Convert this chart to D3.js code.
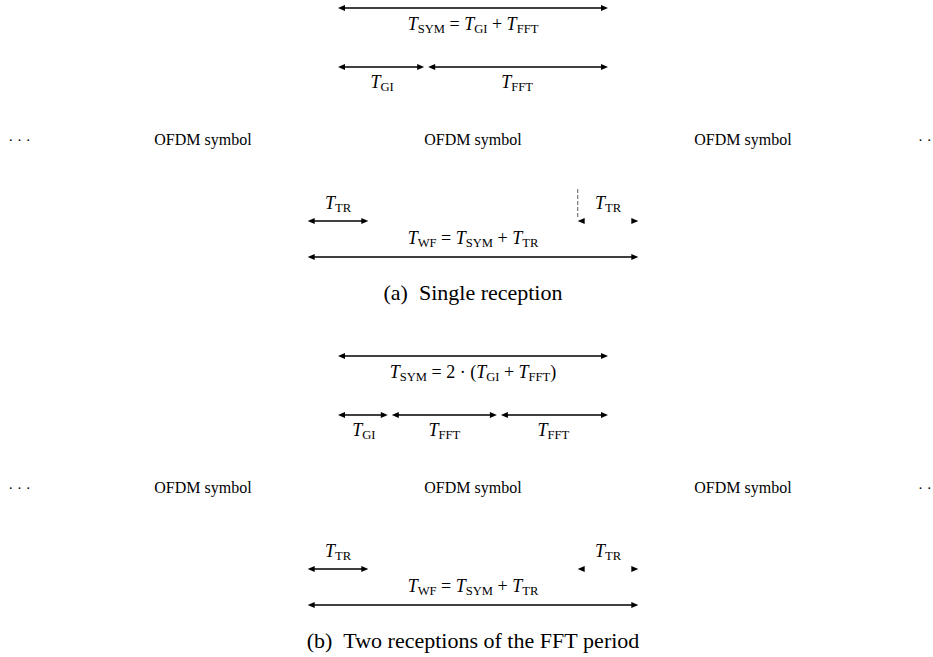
<!DOCTYPE html>
<html><head><meta charset="utf-8">
<script src="https://cdn.jsdelivr.net/npm/d3@7/dist/d3.min.js"></script>
<style>body{margin:0;background:#fff}svg{display:block}</style>
</head><body>
<script>
// ---- data (time units) ----
const segNamesA = ["GI", "FFT"];
const segDurA   = [0.8, 1.65];
const segNamesB = ["GI", "FFT", "FFT"];
const segDurB   = [0.47, 0.99, 0.99];
const T_TR = 0.55;
const symbolOffsets = [-1, 0, 1];
const ellipsisOffsets = [-1.68, 1.69];
const symbolLabel = "OFDM symbol";
const captions = ["(a)  Single reception", "(b)  Two receptions of the FFT period"];
const eqTop = [
  [{v:"T",s:"SYM"}, " = ", {v:"T",s:"GI"}, " + ", {v:"T",s:"FFT"}],
  [{v:"T",s:"SYM"}, " = 2 \u00B7 (", {v:"T",s:"GI"}, " + ", {v:"T",s:"FFT"}, ")"]
];
const eqWF = [{v:"T",s:"WF"}, " = ", {v:"T",s:"SYM"}, " + ", {v:"T",s:"TR"}];

const W = 933, H = 657;
const svg = d3.select("body").append("svg").attr("width", W).attr("height", H);
const FONT = "'Liberation Serif', 'Times New Roman', serif";
const MATH = 18;

const symDur = d3.sum(segDurA);
const x = d3.scaleLinear().domain([0, symDur]).range([338, 608]);

function head(g, xt, y, dir) { // dir -1 left, +1 right
  const L = 7, hw = 3;
  g.append("path")
    .attr("d", `M${xt},${y} L${xt - dir*L},${y-hw} L${xt - dir*L},${y+hw} Z`)
    .attr("fill", "#000");
}
function arrow(g, x1, x2, y) {
  g.append("line").attr("x1", x1 + 3).attr("x2", x2 - 3).attr("y1", y).attr("y2", y)
    .attr("stroke", "#000").attr("stroke-width", 1.5);
  head(g, x1, y, -1); head(g, x2, y, 1);
}
function mathText(g, cx, y, parts, size) {
  const t = g.append("text").attr("x", cx).attr("y", y).attr("text-anchor", "middle")
    .attr("font-family", FONT).attr("font-size", size).attr("fill", "#000");
  let shifted = false;
  parts.forEach(p => {
    if (typeof p === "string") {
      const ts = t.append("tspan").text(p.replace(/ /g, "\u00A0"));
      if (shifted) { ts.attr("dy", -3); shifted = false; }
    } else {
      const ts = t.append("tspan").attr("font-style", "italic").text(p.v);
      if (shifted) { ts.attr("dy", -3); shifted = false; }
      t.append("tspan").attr("font-size", size * 0.7).attr("dy", 3).text(p.s);
      shifted = true;
    }
  });
  return t;
}

function panel(oy, names, durs, eq, caption, dashed) {
  const g = svg.append("g");
  const total = d3.sum(durs);
  // top symbol arrow
  arrow(g, x(0), x(total), oy + 8);
  mathText(g, x(total/2), oy + 30, eq, MATH);
  // segment arrows
  let acc = 0;
  names.forEach((n, i) => {
    const a = acc, b = acc + durs[i];
    arrow(g, x(a) + (i ? 2 : 0), x(b) - (i < names.length - 1 ? 2 : 0), oy + 67);
    mathText(g, x((a + b)/2), oy + 88, [{v:"T", s:n}], MATH);
    acc = b;
  });
  // OFDM symbol row
  symbolOffsets.forEach(k => {
    g.append("text").attr("x", x(total/2 + k*total)).attr("y", oy + 145)
      .attr("text-anchor", "middle").attr("font-family", FONT).attr("font-size", 16)
      .text(symbolLabel);
  });
  ellipsisOffsets.forEach(k => {
    g.append("text").attr("x", x(total/2 + k*total)).attr("y", oy + 145)
      .attr("text-anchor", "middle").attr("font-family", FONT).attr("font-size", 15)
      .text("\u00B7\u00A0\u00B7\u00A0\u00B7");
  });
  // T_TR left
  const l0 = -T_TR/2, l1 = T_TR/2;
  arrow(g, x(l0), x(l1), oy + 221);
  mathText(g, x(0), oy + 209, [{v:"T", s:"TR"}], MATH);
  // T_TR right (heads only)
  const r0 = total - T_TR/2, r1 = total + T_TR/2;
  head(g, x(r0), oy + 221, -1);
  head(g, x(r1), oy + 221, 1);
  mathText(g, x(total), oy + 209, [{v:"T", s:"TR"}], MATH);
  if (dashed) {
    g.append("line").attr("x1", x(r0)).attr("x2", x(r0)).attr("y1", oy + 189).attr("y2", oy + 219)
      .attr("stroke", "#777").attr("stroke-width", 1.2).attr("stroke-dasharray", "4,2");
  }
  // T_WF
  mathText(g, x(total/2), oy + 244, eqWF, MATH);
  arrow(g, x(l0), x(r1), oy + 257);
  // caption
  g.append("text").attr("x", x(total/2)).attr("y", oy + 300).attr("text-anchor", "middle")
    .attr("font-family", FONT).attr("font-size", 22).text(caption.replace(/ /g, "\u00A0"));
}

panel(0, segNamesA, segDurA, eqTop[0], captions[0], true);
panel(348, segNamesB, segDurB, eqTop[1], captions[1], false);
</script>
</body></html>
